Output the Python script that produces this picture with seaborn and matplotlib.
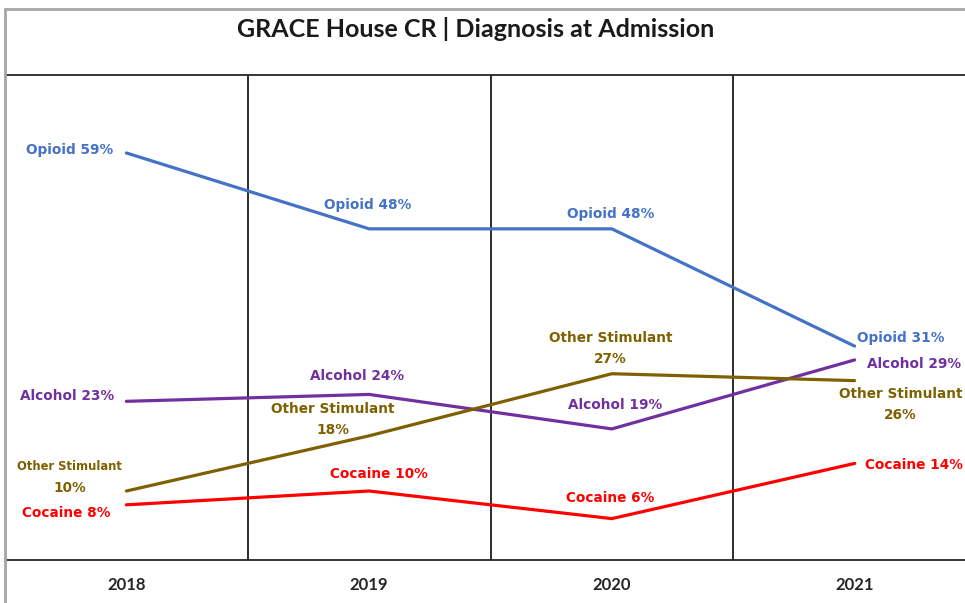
import numpy as np
import seaborn as sns
import pandas as pd
from matplotlib import pyplot as plt
from matplotlib.patches import Rectangle

# данные
years = ['2018', '2019', '2020', '2021']
opioid = [59, 48, 48, 31]
alcohol = [23, 24, 19, 29]
other_stim = [10, 18, 27, 26]
cocaine = [8, 10, 6, 14]

series_names = ['Opioid', 'Alcohol', 'Other Stimulant', 'Cocaine']
series_values = [opioid, alcohol, other_stim, cocaine]
colors = {'Opioid': '#4472C4', 'Alcohol': '#7030A0',
          'Other Stimulant': '#7F6000', 'Cocaine': '#FF0000'}

rows = []
for name, vals in zip(series_names, series_values):
    for i, v in enumerate(vals):
        rows.append({'idx': i, 'year': years[i], 'series': name, 'value': v})
data = pd.DataFrame(rows)

sns.set_style('white')
plt.rcParams['font.family'] = ['DejaVu Sans']

fig = plt.figure(figsize=(9.65, 6.03), dpi=100)
W, H = 965, 603
ax = fig.add_axes([5 / W, 1 - 560 / H, (976 - 5) / W, (560 - 75) / H])

sns.lineplot(data=data, x='idx', y='value', hue='series', palette=colors,
             linewidth=2.3, ax=ax, legend=False, sort=False)

ax.set_xlim(-0.5, 3.5)
ax.set_ylim(0, 70.3)
ax.set_yticks([])
ax.set_xticks(range(len(years)))
ax.set_xticklabels(years, fontsize=12, fontweight='bold', family='Lato', color='#262626')
ax.tick_params(axis='x', length=0, pad=12)
ax.set_xlabel('')
ax.set_ylabel('')
for b in [0.5, 1.5, 2.5]:
    ax.axvline(b, color='#1a1a1a', linewidth=1.3, zorder=0)
for s in ['top', 'bottom']:
    ax.spines[s].set_color('#262626')
    ax.spines[s].set_linewidth(1.3)
ax.spines['left'].set_visible(False)
ax.spines['right'].set_visible(False)

# подписи: (серия, индекс, смещение в точках, текст, размер)
labels = [
    ('Opioid', 0, (-41, 2), 'Opioid 59%', 9.8),
    ('Opioid', 1, (-1, 17), 'Opioid 48%', 9.8),
    ('Opioid', 2, (-1, 11), 'Opioid 48%', 9.8),
    ('Opioid', 3, (33, 6), 'Opioid 31%', 9.8),
    ('Alcohol', 0, (-43, 4), 'Alcohol 23%', 9.8),
    ('Alcohol', 1, (-9, 13), 'Alcohol 24%', 9.8),
    ('Alcohol', 2, (2, 17), 'Alcohol 19%', 9.8),
    ('Alcohol', 3, (43, -3), 'Alcohol 29%', 9.8),
    ('Other Stimulant', 0, (-41, 18), 'Other Stimulant', 8.3),
    ('Other Stimulant', 0, (-41, 2), '10%', 9.8),
    ('Other Stimulant', 1, (-26, 12), 'Other Stimulant\n18%', 9.8),
    ('Other Stimulant', 2, (-1, 18), 'Other Stimulant\n27%', 9.8),
    ('Other Stimulant', 3, (33, -17), 'Other Stimulant\n26%', 9.8),
    ('Cocaine', 0, (-43, -6), 'Cocaine 8%', 9.8),
    ('Cocaine', 1, (7, 12), 'Cocaine 10%', 9.8),
    ('Cocaine', 2, (-1, 15), 'Cocaine 6%', 9.8),
    ('Cocaine', 3, (43, -1), 'Cocaine 14%', 9.8),
]
for name, i, off, txt, fs in labels:
    v = series_values[series_names.index(name)][i]
    ax.annotate(txt, xy=(i, v), xytext=off, textcoords='offset points',
                ha='center', va='center', color=colors[name], fontsize=fs,
                fontweight='bold', linespacing=1.65, annotation_clip=False)

# заголовок
fig.text(476 / W, 1 - 29 / H, 'GRACE House CR | Diagnosis at Admission',
         ha='center', va='center', fontsize=18, fontweight='bold',
         family='Lato', color='#1a1a1a')

# рамка
fig.add_artist(Rectangle((5 / W, -0.1), 1.2, 1 - 9 / H + 0.1,
                         transform=fig.transFigure, fill=False,
                         edgecolor='#a6a6a6', linewidth=2))

plt.savefig('out.png', dpi=100)
